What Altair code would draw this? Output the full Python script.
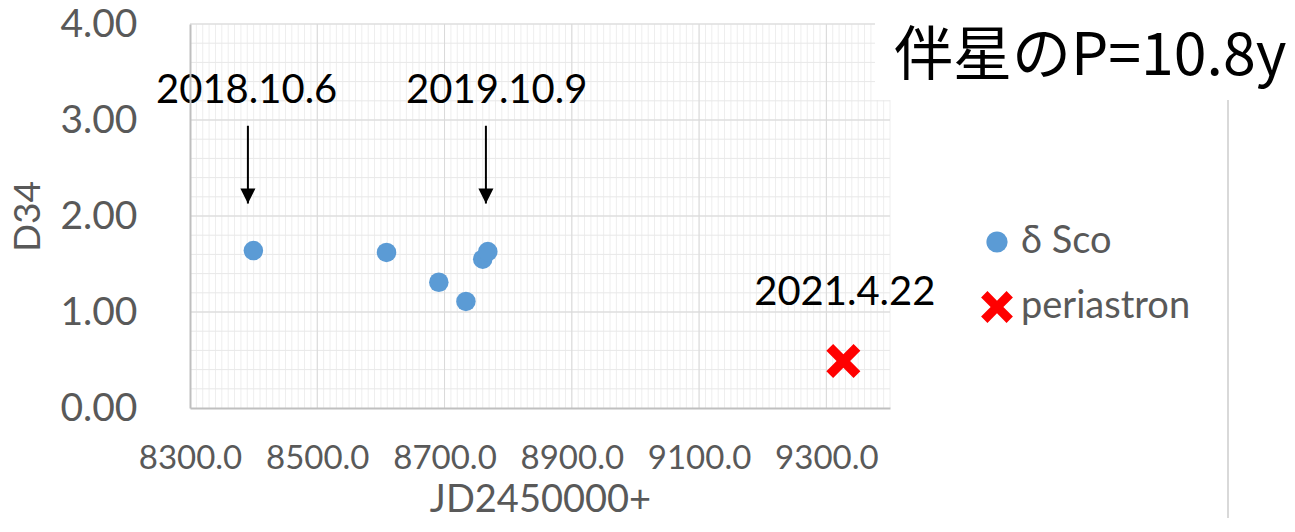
import altair as alt
import pandas as pd

# ---- data ----
jd = [8399.6, 8608.8, 8691.0, 8733.6, 8760.0, 8768.0]
d34 = [1.64, 1.62, 1.31, 1.11, 1.55, 1.63]
peri_jd = [9326.7]
peri_d34 = [0.49]
series_names = ["δ Sco", "periastron"]

ann_text = ["2018.10.6", "2019.10.9", "2021.4.22"]
ann_x = [8389, 8782, 9329]
ann_y = [3.18, 3.18, 1.075]

arrow_x = [8391, 8765]
arrow_top = [2.94, 2.94]
arrow_tip = [2.13, 2.13]

x_major = [8300, 8500, 8700, 8900, 9100, 9300]
y_major = [0, 1, 2, 3, 4]
x_minor = [8300 + 10 * i for i in range(111)]
y_minor = [round(0.2 * i, 1) for i in range(21)]

title_text = "伴星のP=10.8y"

BLUE = "#5B9BD5"
RED = "#FF0000"
GRAY = "#595959"
FONT = "Lato"
XPATH = "M-1.5,-0.9L-0.9,-1.5L0,-0.6L0.9,-1.5L1.5,-0.9L0.6,0L1.5,0.9L0.9,1.5L0,0.6L-0.9,1.5L-1.5,0.9L-0.6,0Z"
HEAD = "M0,0L-1,-2L1,-2Z"

pts = pd.DataFrame({"jd": jd, "d34": d34, "series": series_names[0]})
peri = pd.DataFrame({"jd": peri_jd, "d34": peri_d34, "series": series_names[1]})
ann = pd.DataFrame({"jd": ann_x, "d34": ann_y, "label": ann_text})
arr = pd.DataFrame({"jd": arrow_x, "d34": arrow_top, "tip": arrow_tip})

gx_minor = pd.DataFrame({"jd": [v for v in x_minor if v > 8300]})
gy_minor = pd.DataFrame({"d34": [v for v in y_minor if v > 0]})
gx_major = pd.DataFrame({"jd": [v for v in x_major if v > 8300]})
gy_major = pd.DataFrame({"d34": [v for v in y_major if v > 0]})

xscale = alt.Scale(domain=[8300, 9400], nice=False, zero=False)
yscale = alt.Scale(domain=[0, 4], nice=False)

color_scale = alt.Scale(domain=series_names, range=[BLUE, RED])
shape_scale = alt.Scale(domain=series_names, range=["circle", XPATH])

legend = alt.Legend(
    title=None, orient="none", legendX=788, legendY=199,
    labelFontSize=38, labelColor=GRAY, labelFont=FONT, labelLimit=400,
    symbolSize=450, symbolStrokeWidth=0, symbolOpacity=1,
    labelOffset=5, rowPadding=27, padding=0,
)

main_x = alt.X("jd:Q", scale=xscale, axis=alt.Axis(
    values=x_major, format=".1f", grid=False, zindex=1,
    ticks=False, tickSize=0, domainColor="#bfbfbf", domainWidth=2,
    labelFontSize=33, labelColor=GRAY, labelFont=FONT, labelPadding=34,
    labelOverlap=False, labelFlush=False,
    title="JD2450000+", titleFontSize=38, titleColor=GRAY, titleFont=FONT,
    titleFontWeight="normal", titleY=92, titleBaseline="middle"))
main_y = alt.Y("d34:Q", scale=yscale, axis=alt.Axis(
    values=y_major, format=".2f", grid=False, zindex=1,
    ticks=False, tickSize=0, domainColor="#bfbfbf", domainWidth=2,
    labelFontSize=39, labelColor=GRAY, labelFont=FONT, labelPadding=53,
    labelOverlap=False, labelFlush=False,
    title="D34", titleFontSize=37, titleColor=GRAY, titleFont=FONT,
    titleFontWeight="normal", titleX=-162, titleY=192, titleBaseline="middle",
    titleAlign="center"))

grid_vminor = alt.Chart(gx_minor).mark_rule(color="#eeeeee", strokeWidth=1).encode(x=main_x)
grid_hminor = alt.Chart(gy_minor).mark_rule(color="#e8e8e8", strokeWidth=1).encode(y=main_y)
grid_vmajor = alt.Chart(gx_major).mark_rule(color="#d9d9d9", strokeWidth=1).encode(x="jd:Q")
grid_hmajor = alt.Chart(gy_major).mark_rule(color="#d9d9d9", strokeWidth=1).encode(y="d34:Q")

dots = alt.Chart(pts).mark_point(filled=True, size=380, opacity=1, strokeWidth=0).encode(
    x="jd:Q", y="d34:Q",
    color=alt.Color("series:N", scale=color_scale, legend=legend),
    shape=alt.Shape("series:N", scale=shape_scale, legend=legend),
)

cross = alt.Chart(peri).mark_point(filled=True, size=514, opacity=1, strokeWidth=0).encode(
    x="jd:Q", y="d34:Q",
    color=alt.Color("series:N", scale=color_scale, legend=legend),
    shape=alt.Shape("series:N", scale=shape_scale, legend=legend),
)

shafts = alt.Chart(arr).mark_rule(color="black", strokeWidth=2).encode(
    x="jd:Q", y="d34:Q", y2="tip:Q"
)
heads = alt.Chart(arr).mark_point(shape=HEAD, filled=True, color="black", size=225, opacity=1, strokeWidth=0).encode(
    x="jd:Q", y=alt.Y("tip:Q")
)

labels = alt.Chart(ann).mark_text(
    font=FONT, fontSize=40, color="black", align="center", baseline="alphabetic"
).encode(x="jd:Q", y="d34:Q", text="label:N")

cover = alt.Chart(pd.DataFrame({"a": [0]})).mark_rect(color="white").encode(
    x=alt.value(685), x2=alt.value(720), y=alt.value(-24), y2=alt.value(76)
)
title = alt.Chart(pd.DataFrame({"t": [title_text]})).mark_text(
    font="Noto Sans CJK JP", fontSize=59, color="black", align="left", baseline="alphabetic"
).encode(x=alt.value(704), y=alt.value(51), text="t:N")
border = alt.Chart(pd.DataFrame({"a": [0]})).mark_rule(color="#d9d9d9", strokeWidth=2).encode(
    x=alt.value(1038), y=alt.value(76), y2=alt.value(520)
)

chart = alt.layer(
    grid_vminor, grid_hminor, grid_vmajor, grid_hmajor,
    dots, cross, shafts, heads, labels, cover, border, title
).properties(
    width=700, height=384,
    padding={"left": 182, "top": 16, "right": 397, "bottom": 110},
    autosize="none",
    background="white",
).configure_view(stroke=None)

chart.save("out.html", embed_options={"renderer": "svg", "actions": False})
